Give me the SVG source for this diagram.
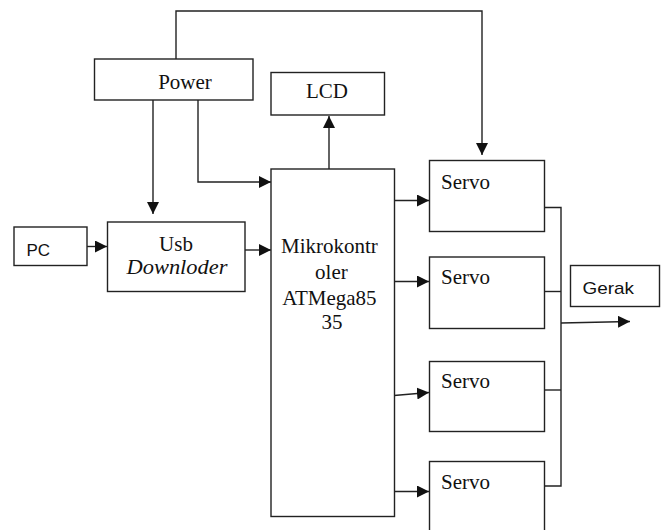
<svg xmlns="http://www.w3.org/2000/svg" width="669" height="530" viewBox="0 0 669 530">
<style>
.box{fill:#fff;stroke:#222;stroke-width:1.4}
.ln{fill:none;stroke:#222;stroke-width:1.4}
.ser{font-family:"Liberation Serif","Times New Roman",serif;font-size:21px;fill:#111}
.san{font-family:"Liberation Sans",Arial,sans-serif;font-size:17px;fill:#111}
</style>
<defs>
<marker id="ah" markerUnits="userSpaceOnUse" markerWidth="12" markerHeight="12" refX="12" refY="6" orient="auto">
<path d="M0,0 L12,6 L0,12 z" fill="#111"/>
</marker>
</defs>
<rect width="669" height="530" fill="#fff"/>
<g id="connectors">
<polyline class="ln" points="176,59 176,11 482,11 482,155" marker-end="url(#ah)"/>
<line class="ln" x1="153" y1="100" x2="153" y2="214" marker-end="url(#ah)"/>
<polyline class="ln" points="198,100 198,182 271,182" marker-end="url(#ah)"/>
<line class="ln" x1="329" y1="169" x2="329" y2="116" marker-end="url(#ah)"/>
<line class="ln" x1="87" y1="246.5" x2="107" y2="246.5" marker-end="url(#ah)"/>
<line class="ln" x1="245" y1="250" x2="271" y2="250" marker-end="url(#ah)"/>
<line class="ln" x1="394" y1="200.5" x2="429" y2="200.5" marker-end="url(#ah)"/>
<line class="ln" x1="394" y1="281.5" x2="429" y2="281.5" marker-end="url(#ah)"/>
<line class="ln" x1="394" y1="395.5" x2="429" y2="392.5" marker-end="url(#ah)"/>
<line class="ln" x1="394" y1="491.5" x2="429" y2="491.5" marker-end="url(#ah)"/>
<polyline class="ln" points="544,207.5 561,207.5 561,486 544,486"/>
<line class="ln" x1="544" y1="291.5" x2="561" y2="291.5"/>
<line class="ln" x1="544" y1="390" x2="561" y2="390"/>
<line class="ln" x1="561" y1="323" x2="630" y2="321.5" marker-end="url(#ah)"/>
</g>
<g id="power">
<rect class="box" x="94.5" y="59" width="158.5" height="41"/>
<text class="ser" x="185" y="88.5" text-anchor="middle">Power</text>
</g>
<g id="lcd">
<rect class="box" x="271" y="72.5" width="113.5" height="42.5"/>
<text class="ser" x="327" y="97.5" text-anchor="middle">LCD</text>
</g>
<g id="pc">
<rect class="box" x="14" y="227" width="73" height="38.5"/>
<text class="san" x="26.5" y="256">PC</text>
</g>
<g id="usb">
<rect class="box" x="107.5" y="222" width="137.5" height="69.5"/>
<text class="ser" x="176" y="251" text-anchor="middle">Usb</text>
<text class="ser" x="177" y="273.5" text-anchor="middle" font-style="italic" textLength="101" lengthAdjust="spacingAndGlyphs">Downloder</text>
</g>
<g id="mikrokontroler">
<rect class="box" x="271" y="169" width="123.5" height="347.5"/>
<text class="ser" text-anchor="middle">
<tspan x="332" y="253">Mikrokontr</tspan>
<tspan x="334" y="279">oler</tspan>
<tspan x="332" y="305">ATMega85</tspan>
<tspan x="332" y="329">35</tspan>
</text>
</g>
<g id="servo1">
<rect class="box" x="429.5" y="160.5" width="115" height="71"/>
<text class="ser" x="441" y="188.5">Servo</text>
</g>
<g id="servo2">
<rect class="box" x="429.5" y="257" width="115" height="71.5"/>
<text class="ser" x="441" y="284">Servo</text>
</g>
<g id="servo3">
<rect class="box" x="429.5" y="361.5" width="115" height="70"/>
<text class="ser" x="441" y="388">Servo</text>
</g>
<g id="servo4">
<rect class="box" x="429.5" y="461.5" width="115" height="75"/>
<text class="ser" x="441" y="489">Servo</text>
</g>
<g id="gerak">
<rect class="box" x="570.5" y="265.5" width="89" height="41"/>
<text class="san" x="582.5" y="294" font-size="18" textLength="51.5" lengthAdjust="spacingAndGlyphs">Gerak</text>
</g>
</svg>
